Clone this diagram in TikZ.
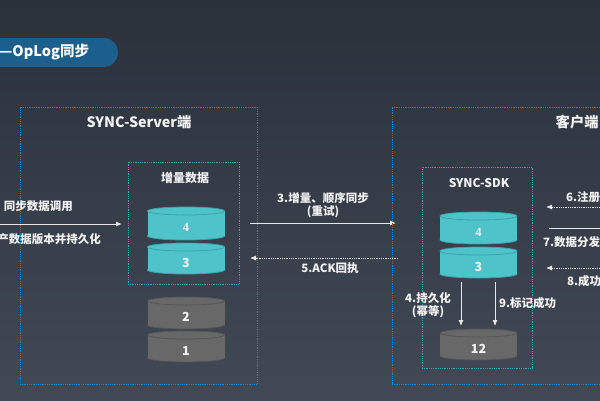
\documentclass[tikz,border=0pt]{standalone}
\usepackage{fontspec}
\setmainfont{Noto Sans CJK SC}
\newfontfamily\cjk{Noto Sans CJK SC}
\newfontfamily\numserif{Liberation Serif}
\usetikzlibrary{arrows.meta}
\definecolor{bgtop}{HTML}{2A313B}
\definecolor{bgbot}{HTML}{414955}
\definecolor{hdrblue}{HTML}{1C5F8D}
\definecolor{boxblue}{HTML}{1E82C4}
\definecolor{boxteal}{HTML}{3A9FA8}
\definecolor{tealfill}{HTML}{4FC3CA}
\definecolor{tealedge}{HTML}{3AA3AA}
\definecolor{grayfill}{HTML}{686868}
\definecolor{grayedge}{HTML}{555555}
\definecolor{txtwhite}{HTML}{F2F2F2}
\definecolor{arrwhite}{HTML}{E8E8E8}
\newcommand{\dbcyl}[7]{%
  \filldraw[fill=#5, draw=#6, line width=0.8pt] (#2,#4-4) ellipse [x radius=38.5, y radius=4];
  \fill[#5] (#2-38.5,#3+4) rectangle (#2+38.5,#4-4);
  \filldraw[fill=#5, draw=#6, line width=0.8pt] (#2,#3+4) ellipse [x radius=38.5, y radius=4];
  \node[cyltext] (#1) at (#2,{(#3+8+#4)/2}) {#7};
}
\tikzset{
  lbl/.style={text=txtwhite, font=\cjk\bfseries\fontsize{11.5}{14}\selectfont, inner sep=0pt},
  ttl/.style={text=txtwhite, font=\cjk\bfseries\fontsize{14.3}{16}\selectfont, inner sep=0pt},
  sub/.style={text=txtwhite, font=\cjk\bfseries\fontsize{12}{14}\selectfont, inner sep=0pt},
  cyltext/.style={text=txtwhite, font=\cjk\bfseries\fontsize{12.5}{14}\selectfont, inner sep=0pt},
  outerbox/.style={draw=boxblue, densely dotted, line width=0.8pt, inner sep=0pt},
  innerbox/.style={draw=boxteal, densely dotted, line width=0.8pt, inner sep=0pt},
  arr/.style={draw=arrwhite, line width=0.9pt, -{Latex[length=6pt,width=5pt]}},
  darr/.style={draw=arrwhite, line width=0.8pt, densely dotted, -{Latex[length=6pt,width=5pt]}},
}
\begin{document}
\begin{tikzpicture}[x=1pt,y=-1pt]
\useasboundingbox (0,0) rectangle (600,400);
\clip (0,0) rectangle (600,400);
\shade[top color=bgtop, bottom color=bgbot] (0,0) rectangle (600,400);
% header
\fill[hdrblue, rounded corners=14.5pt] (-30,38) rectangle (118,67);
\node[text=white, font=\cjk\bfseries\fontsize{14.5}{16}\selectfont, inner sep=0pt, anchor=west] (hdr) at (-1,52.5) {—OpLog同步};
% server side
\node[outerbox, minimum width=237pt, minimum height=277pt] (server) at (138.5,245.5) {};
\node[ttl] (servertitle) at (139,122) {SYNC-Server端};
\node[innerbox, minimum width=111pt, minimum height=122pt] (incr) at (183.5,223) {};
\node[sub] (incrtitle) at (185,178) {增量数据};
\dbcyl{s4}{186}{207}{240}{tealfill}{tealedge}{\numserif\bfseries 4}
\dbcyl{s3}{186}{243}{274}{tealfill}{tealedge}{3}
\dbcyl{s2}{186}{297}{329}{grayfill}{grayedge}{2}
\dbcyl{s1}{186}{331}{362}{grayfill}{grayedge}{1}
% left texts and arrow
\node[lbl, anchor=east] (l1) at (73,206) {同步数据调用};
\node[lbl, anchor=east] (l2) at (101,239) {产数据版本并持久化};
\coordinate (a1s) at (-5,224);
\coordinate (a1e) at (122,224);
\draw[arr] (a1s) -- (a1e);
% middle arrows
\coordinate (a3s) at (250,223);
\coordinate (a3e) at (396,223);
\draw[arr] (a3s) -- (a3e);
\node[lbl] (l3a) at (323,198) {3.增量、顺序同步};
\node[lbl] (l3b) at (323,212) {(重试)};
\coordinate (a5s) at (398,258);
\coordinate (a5e) at (250,258);
\draw[darr] (a5s) -- (a5e);
\node[lbl] (l5) at (330,268) {5.ACK回执};
% client side
\node[outerbox, minimum width=230pt, minimum height=277pt] (client) at (507,245.5) {};
\node[ttl, anchor=west] (clienttitle) at (555.5,122) {客户端};
\node[innerbox, minimum width=110pt, minimum height=201pt] (sdk) at (477,267.5) {};
\node[sub] (sdktitle) at (479,183) {SYNC-SDK};
\dbcyl{c4}{478.5}{212}{244}{tealfill}{tealedge}{\numserif\bfseries 4}
\dbcyl{c3}{478.5}{247}{278}{tealfill}{tealedge}{3}
\dbcyl{c12}{478.5}{329}{360}{grayfill}{grayedge}{12}
\coordinate (a4s) at (461,282);
\coordinate (a4e) at (461,326);
\draw[arr] (a4s) -- (a4e);
\coordinate (a9s) at (495,282);
\coordinate (a9e) at (495,326);
\draw[arr] (a9s) -- (a9e);
\node[lbl] (l4a) at (428,298) {4.持久化};
\node[lbl] (l4b) at (428,312) {(幂等)};
\node[lbl, anchor=west] (l9) at (499,303) {9.标记成功};
% right side
\node[lbl, anchor=west] (l6) at (566,197) {6.注册};
\coordinate (a6s) at (605,207);
\coordinate (a6e) at (546,207);
\draw[darr] (a6s) -- (a6e);
\coordinate (a7s) at (549,228);
\coordinate (a7e) at (615,228);
\draw[arr] (a7s) -- (a7e);
\node[lbl, anchor=west] (l7) at (543,242) {7.数据分发};
\coordinate (a8s) at (605,268);
\coordinate (a8e) at (546,268);
\draw[darr] (a8s) -- (a8e);
\node[lbl, anchor=west] (l8) at (567,281) {8.成功};
\end{tikzpicture}
\end{document}
